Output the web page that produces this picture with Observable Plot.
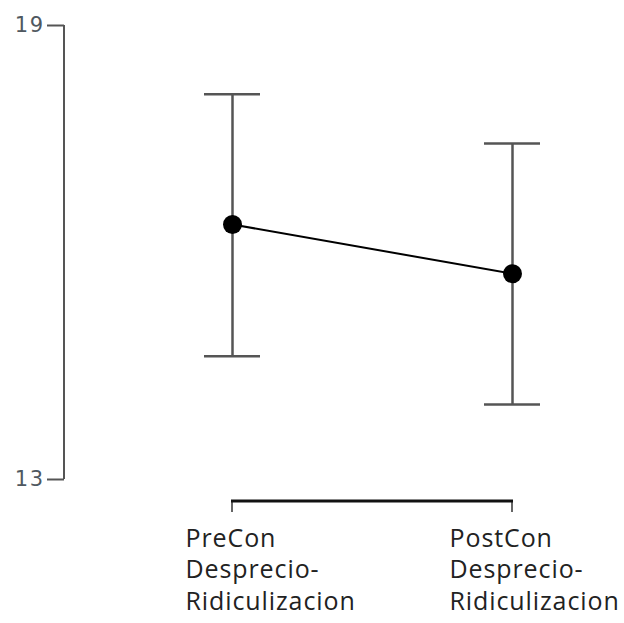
<!DOCTYPE html>
<html>
<head>
<meta charset="utf-8">
<script src="https://cdn.jsdelivr.net/npm/d3@7"></script>
<script src="https://cdn.jsdelivr.net/npm/@observablehq/plot@0.6"></script>
<style>
  html, body { margin: 0; padding: 0; background: white; }
  g[aria-label="x-axis tick label"] text { letter-spacing: 0.9px; }
  g[aria-label="text"] text { letter-spacing: 1.5px; }
</style>
</head>
<body>
<div id="chart"></div>
<script>
const categories = ["PreCon\nDesprecio-\nRidiculizacion", "PostCon\nDesprecio-\nRidiculizacion"];
const means = [16.37, 15.72];
const upper = [18.09, 17.44];
const lower = [14.63, 13.99];
const yTicks = [13, 19];

const data = categories.map((c, i) => ({cat: c, mean: means[i], hi: upper[i], lo: lower[i]}));

// y-axis spine drawn from the y scale
const ySpine = (index, scales, values, dims) => {
  const svg = d3.create("svg:g");
  svg.append("line")
    .attr("x1", dims.marginLeft).attr("x2", dims.marginLeft)
    .attr("y1", scales.y(d3.max(yTicks))).attr("y2", scales.y(d3.min(yTicks)))
    .attr("stroke", "#555").attr("stroke-width", 2);
  return svg.node();
};

// x-axis bracket between first and last category
const xBracket = (index, scales, values, dims) => {
  const g = d3.create("svg:g");
  const yb = dims.height - dims.marginBottom + 22;
  const x0 = scales.x(categories[0]);
  const x1 = scales.x(categories[categories.length - 1]);
  g.append("line").attr("x1", x0).attr("x2", x0).attr("y1", yb).attr("y2", yb + 11)
    .attr("stroke", "#666").attr("stroke-width", 2);
  g.append("line").attr("x1", x1).attr("x2", x1).attr("y1", yb).attr("y2", yb + 11)
    .attr("stroke", "#666").attr("stroke-width", 2);
  g.append("line").attr("x1", x0 - 1).attr("x2", x1 + 1).attr("y1", yb).attr("y2", yb)
    .attr("stroke", "#111").attr("stroke-width", 3);
  return g.node();
};

const chart = Plot.plot({
  width: 624,
  height: 623,
  marginTop: 25,
  marginBottom: 144,
  marginLeft: 64,
  marginRight: 0,
  style: {background: "white", fontFamily: "'Open Sans', sans-serif", overflow: "visible"},
  x: {type: "point", domain: categories, range: [232, 512], padding: 0, axis: null},
  y: {domain: [13, 19], axis: null},
  marks: [
    ySpine,
    Plot.axisY(yTicks, {anchor: "left", tickSize: 17, label: null, stroke: "#555", strokeWidth: 2, tickFormat: () => ""}),
    Plot.text(yTicks, {y: d => d, text: d => String(d), frameAnchor: "left", dx: -20, textAnchor: "end",
      fontSize: 21, fontFamily: "'DejaVu Sans', sans-serif", fill: "#4f5860"}),
    xBracket,
    Plot.axisX([categories[0]], {anchor: "bottom", tickSize: 0, tickPadding: 45, dx: -47, textAnchor: "start", label: null,
      fontSize: 25, lineHeight: 1.26, fill: "#222", tickFormat: d => d}),
    Plot.axisX([categories[1]], {anchor: "bottom", tickSize: 0, tickPadding: 45, dx: -63, textAnchor: "start", label: null,
      fontSize: 25, lineHeight: 1.26, fill: "#222", tickFormat: d => d}),
    Plot.ruleX(data, {x: "cat", y1: "lo", y2: "hi", stroke: "#555", strokeWidth: 2.5}),
    Plot.ruleY(data, {x1: "cat", x2: "cat", y: "hi", stroke: "#555", strokeWidth: 2.5, insetLeft: -28, insetRight: -28}),
    Plot.ruleY(data, {x1: "cat", x2: "cat", y: "lo", stroke: "#555", strokeWidth: 2.5, insetLeft: -28, insetRight: -28}),
    Plot.line(data, {x: "cat", y: "mean", stroke: "#000", strokeWidth: 2}),
    Plot.dot(data, {x: "cat", y: "mean", r: 9.5, fill: "#000", stroke: "none"})
  ]
});
document.getElementById("chart").appendChild(chart);
</script>
</body>
</html>
